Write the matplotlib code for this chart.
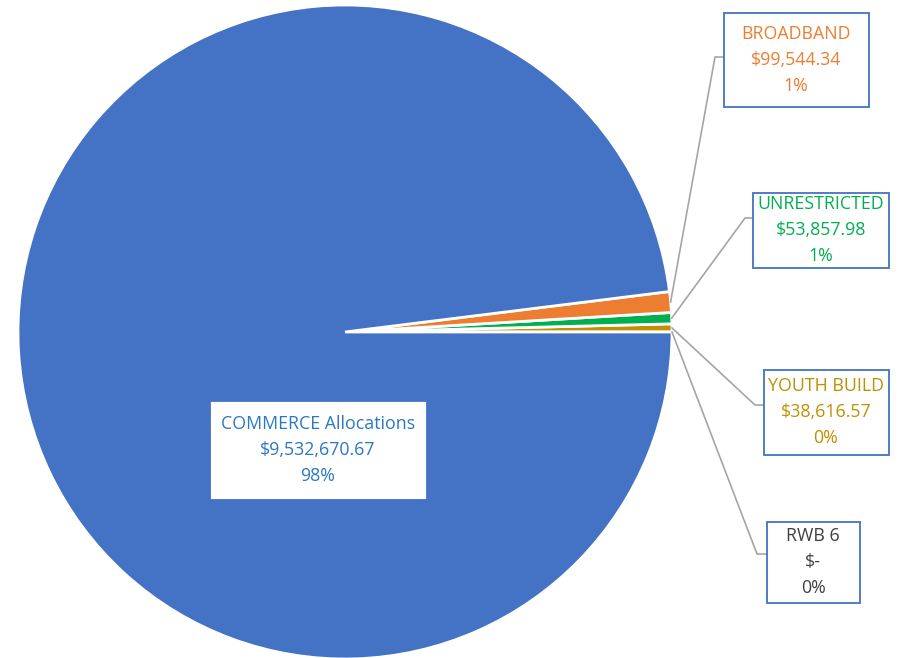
import numpy as np
import matplotlib
matplotlib.use("Agg")
import matplotlib.pyplot as plt

categories = ["COMMERCE Allocations", "BROADBAND", "UNRESTRICTED", "YOUTH BUILD", "RWB 6"]
values = [9532670.67, 99544.34, 53857.98, 38616.57, 0.0]
amount_labels = ["$9,532,670.67", "$99,544.34", "$53,857.98", "$38,616.57", "$-"]
pct_labels = ["98%", "1%", "1%", "0%", "0%"]
slice_colors = ["#4472C4", "#ED7D31", "#00B050", "#BF9000", "#A5A5A5"]
text_colors = ["#2A78C0", "#ED7D31", "#00B050", "#BF9000", "#404040"]

plt.rcParams['font.family'] = ['Open Sans', 'DejaVu Sans']

W, H = 901, 658
fig = plt.figure(figsize=(W / 100, H / 100), dpi=100)
ax = fig.add_axes([0, 0, 1, 1])
cx, cy, R = 345.0, 332.0, 327.0

def d(px, py):
    return ((px - cx) / R, (cy - py) / R)

# counterclockwise from 3 o'clock: RWB6, Youth, Unrestricted, Broadband, Commerce
order = list(range(len(values)))[::-1]
wedges, _ = ax.pie([values[i] for i in order], colors=[slice_colors[i] for i in order],
                   startangle=0, counterclock=True, radius=1.0,
                   wedgeprops=dict(edgecolor='white', linewidth=2.0))
wmap = {order[k]: wedges[k] for k in range(len(order))}

ax.set_aspect('auto')
ax.set_xlim((0 - cx) / R, (W - cx) / R)
ax.set_ylim((cy - H) / R, (cy - 0) / R)
ax.axis('off')

# label boxes: centre pixel positions
box_centers = {0: (318, 450), 1: (796, 60), 2: (821, 230), 3: (826, 412), 4: (813, 562)}
box_sizes = {0: (217, 99), 1: (145, 93), 2: (136, 75), 3: (125, 85), 4: (93, 81)}
elbows = {1: [(715, 57), (724, 57)], 2: [(745, 218), (753, 218)],
          3: [(755, 405), (764, 405)], 4: [(757, 554), (767, 554)]}

for i in range(len(values)):
    bx, by = box_centers[i]
    bw, bh = box_sizes[i]
    x0, y0 = d(bx - bw / 2, by + bh / 2)
    rect = plt.Rectangle((x0, y0), bw / R, bh / R, facecolor='white',
                         edgecolor='#4472C4', linewidth=1.3, zorder=5, clip_on=False)
    ax.add_patch(rect)
    tx, ty = d(bx, by)
    ax.text(tx, ty, f"{categories[i]}\n{amount_labels[i]}\n{pct_labels[i]}",
            ha='center', va='center', color=text_colors[i], fontsize=12.8,
            linespacing=1.6, zorder=6)
    if i in elbows:
        w = wmap[i]
        mid = np.deg2rad((w.theta1 + w.theta2) / 2)
        pts = [(np.cos(mid), np.sin(mid))] + [d(*p) for p in elbows[i]]
        xs, ys = zip(*pts)
        ax.plot(xs, ys, color='#A5A5A5', linewidth=1.2, zorder=4)

fig.savefig("out.png", dpi=100)
